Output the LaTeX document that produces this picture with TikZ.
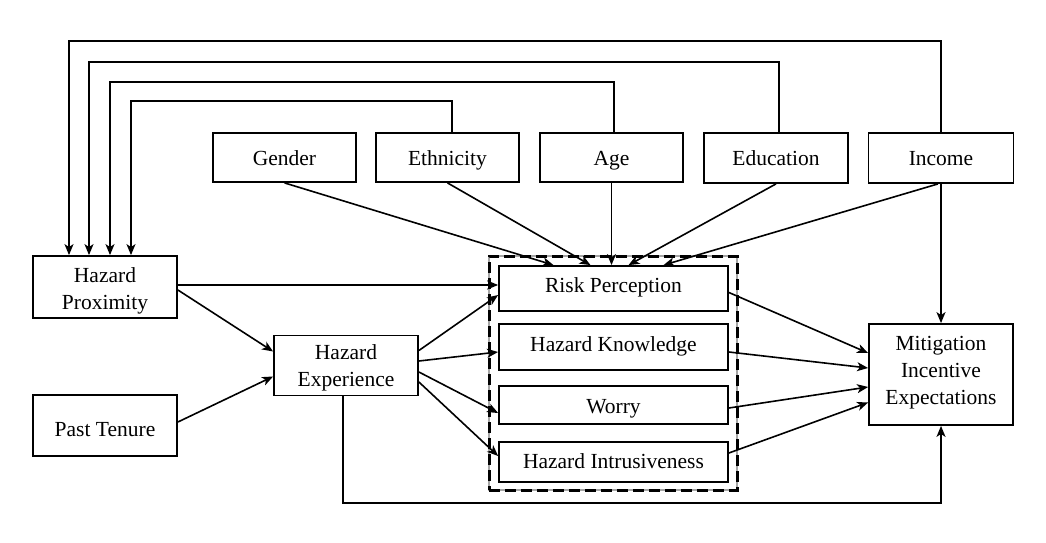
\documentclass[tikz,border=0pt]{standalone}
\usepackage{fontspec}
\setmainfont{Liberation Serif}
\usetikzlibrary{arrows.meta,calc}
\begin{document}
\begin{tikzpicture}[x=1pt,y=-1pt,
  box/.style={draw, line width=1.8pt, inner sep=0pt, align=center,
    font=\fontsize{21.5}{27}\selectfont},
  bl/.style={text height={15pt+#1}, text depth={15pt-#1}},
  arr/.style={line width=1.6pt, -{Stealth[length=11pt,width=9pt,inset=3pt]}},
  ln/.style={line width=1.6pt}]
\useasboundingbox (0,0) rectangle (1046,543);
% top row
\node[box, bl=7.5pt, minimum width=143, minimum height=49] (gen) at (284.5,157.5) {Gender};
\node[box, bl=7.5pt, minimum width=143, minimum height=49] (eth) at (447.5,157.5) {Ethnicity};
\node[box, bl=7.5pt, minimum width=143, minimum height=49] (age) at (611.5,157.5) {Age};
\node[box, bl=7pt, minimum width=144, minimum height=50] (edu) at (776,158) {Education};
\node[box, bl=7pt, minimum width=145, minimum height=50] (inc) at (941,158) {Income};
% left
\node[box, bl=29.5pt, minimum width=144, minimum height=62] (hp) at (105,287) {Hazard\\Proximity};
\node[box, bl=11pt, minimum width=144, minimum height=61] (pt) at (105,425.5) {Past Tenure};
\node[box, bl=26.5pt, minimum width=144, minimum height=60] (he) at (346,365.5) {Hazard\\Experience};
% group
\node[draw=black!35, line width=1.2pt, minimum width=248, minimum height=234, inner sep=0pt] (grpbg) at (613,373) {};
\node[draw, line width=3pt, dash pattern=on 11pt off 5pt, minimum width=248, minimum height=234, inner sep=0pt] (grp) at (613,373) {};
\node[box, bl=3.5pt, minimum width=229, minimum height=45] (rp) at (613.5,288.5) {Risk Perception};
\node[box, bl=4pt, minimum width=229, minimum height=46] (hk) at (613.5,347) {Hazard Knowledge};
\node[box, bl=8pt, minimum width=229, minimum height=38] (wo) at (613.5,405) {Worry};
\node[box, bl=6pt, minimum width=229, minimum height=40] (hi) at (613.5,462) {Hazard Intrusiveness};
% right
\node[box, bl=45.5pt, minimum width=144, minimum height=101] (mit) at (941,374.5) {Mitigation\\Incentive\\Expectations};
% feedback lines over the top
\coordinate (t1) at (69,41);
\coordinate (t2) at (89,62);
\coordinate (t3) at (110,82);
\coordinate (t4) at (131,101);
\draw[arr] (inc.north) |- (t1) -- (t1 |- hp.north);
\draw[arr] ([xshift=3]edu.north) |- (t2) -- (t2 |- hp.north);
\draw[arr] ([xshift=2.5]age.north) |- (t3) -- (t3 |- hp.north);
\draw[arr] ([xshift=4.5]eth.north) |- (t4) -- (t4 |- hp.north);
% demographics to risk perception
\draw[arr] (gen.south) -- ([xshift=-60]rp.north);
\draw[arr] (eth.south) -- ([xshift=-23]rp.north);
\draw[arr] (age.south) -- ([xshift=-2]rp.north);
\draw[arr] (edu.south) -- ([xshift=15]rp.north);
\draw[arr] ([xshift=-3]inc.south) -- ([xshift=50]rp.north);
\draw[arr] (inc.south) -- (mit.north);
% left side
\draw[arr] ([yshift=2]hp.east) -- ([yshift=3.5]rp.west);
\draw[arr] ([yshift=-3]hp.east) -- ([yshift=14]he.west);
\draw[arr] ([yshift=3.5]pt.east) -- ([yshift=-11]he.west);
\draw[arr] ([yshift=15]he.east) -- ([yshift=-6.5]rp.west);
\draw[arr] ([yshift=4.5]he.east) -- ([yshift=-5]hk.west);
\draw[arr] ([yshift=-6.5]he.east) -- ([yshift=-8]wo.west);
\draw[arr] ([yshift=-16.5]he.east) -- ([yshift=6]hi.west);
% to mitigation
\draw[arr] ([yshift=-4]rp.east) -- ([yshift=21.5]mit.west);
\draw[arr] ([yshift=-5]hk.east) -- ([yshift=6.5]mit.west);
\draw[arr] ([yshift=-3]wo.east) -- ([yshift=-12.5]mit.west);
\draw[arr] ([yshift=9]hi.east) -- ([yshift=-28]mit.west);
% bottom connector
\coordinate (b1) at (343,503);
\draw[arr] (he.south -| b1) -- (b1) -| (mit.south);
\end{tikzpicture}
\end{document}
